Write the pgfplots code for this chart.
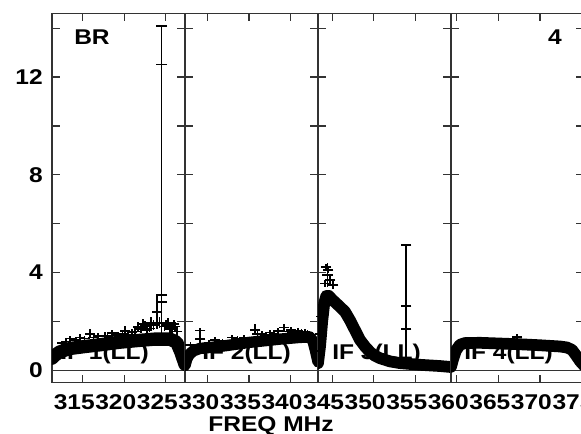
\documentclass[border=0pt]{standalone}
\usepackage{fontspec}
\setmainfont{Liberation Sans}
\usepackage{graphicx}
\usepackage{pgfplots}
\usepackage{pgfplotstable}
\pgfplotsset{compat=1.18}

\newcommand\lbl[1]{\scalebox{1.15}[1]{\fontsize{16}{16}\selectfont\bfseries #1}}

% band centres, one table per IF
\pgfplotstableread{
f v
311.30 0.50
311.65 0.62
312.20 0.75
313.00 0.85
313.50 0.90
315.30 0.98
317.10 1.05
319.30 1.15
321.50 1.22
323.60 1.28
325.50 1.28
326.30 1.15
326.80 0.75
327.30 0.25
}\bandA
\pgfplotstableread{
f v
327.30 0.20
327.50 0.45
327.80 0.65
328.30 0.80
329.10 0.90
331.50 0.98
335.10 1.15
338.70 1.28
341.10 1.35
342.30 1.37
342.70 1.20
343.00 0.80
343.30 0.35
}\bandB
\pgfplotstableread{
f v
343.30 0.30
343.55 1.00
343.80 2.00
344.05 2.75
344.30 3.05
344.60 3.05
345.00 2.90
345.95 2.60
346.55 2.40
347.15 2.05
347.75 1.65
348.35 1.25
348.95 0.98
349.56 0.75
350.15 0.60
350.76 0.50
351.96 0.37
353.16 0.30
355.57 0.23
357.98 0.18
359.30 0.14
}\bandC
\pgfplotstableread{
f v
359.30 0.15
359.54 0.45
359.90 0.82
360.38 1.05
360.98 1.12
362.80 1.13
365.20 1.10
367.60 1.07
370.00 1.03
372.40 0.98
373.25 0.94
373.86 0.84
374.34 0.62
374.82 0.38
375.30 0.20
}\bandD

% points standing out of the band, with their error bars
\pgfplotstableread{
f v ep em
312.50 1.12 0.10 0.10
313.00 1.18 0.10 0.10
313.47 1.30 0.12 0.12
314.20 1.25 0.10 0.10
314.67 1.35 0.15 0.15
315.20 1.30 0.10 0.10
315.87 1.50 0.18 0.18
316.30 1.35 0.10 0.10
316.83 1.40 0.12 0.12
317.68 1.42 0.15 0.15
318.00 1.40 0.10 0.10
318.52 1.52 0.15 0.15
319.24 1.45 0.12 0.12
319.80 1.50 0.12 0.12
320.08 1.62 0.18 0.18
320.50 1.45 0.10 0.10
320.92 1.55 0.15 0.15
321.30 1.60 0.15 0.15
321.65 1.78 0.20 0.20
322.00 1.70 0.18 0.18
322.25 1.90 0.20 0.20
322.50 1.82 0.20 0.20
322.73 1.65 0.20 0.20
323.00 1.72 0.15 0.15
323.21 1.95 0.22 0.22
323.50 1.85 0.20 0.20
323.93 2.40 0.70 0.70
324.20 1.95 0.22 0.22
324.50 3.09 0.40 0.40
324.50 2.81 0.50 0.50
324.50 12.52 1.56 11.10
324.50 14.08 0 0
324.80 1.80 0.20 0.20
325.01 1.85 0.20 0.20
325.25 1.95 0.20 0.20
325.50 1.75 0.20 0.20
325.75 1.70 0.20 0.20
325.98 1.90 0.15 0.15
326.10 1.80 0.20 0.20
326.34 1.60 0.20 0.20
}\spkA
\pgfplotstableread{
f v ep em
328.00 1.05 0.10 0.10
329.10 1.63 0.12 0.12
329.10 1.28 0.30 0.30
330.20 1.15 0.10 0.10
330.91 1.25 0.10 0.10
331.80 1.20 0.10 0.10
332.95 1.35 0.10 0.10
333.60 1.30 0.10 0.10
334.40 1.35 0.10 0.10
335.72 1.66 0.22 0.22
336.00 1.50 0.10 0.10
336.56 1.48 0.12 0.12
337.00 1.45 0.10 0.10
337.53 1.55 0.12 0.12
338.00 1.50 0.10 0.10
338.49 1.62 0.12 0.12
339.21 1.75 0.15 0.15
339.70 1.60 0.10 0.10
340.05 1.65 0.12 0.12
340.50 1.55 0.10 0.10
340.89 1.62 0.10 0.10
341.30 1.60 0.10 0.10
341.74 1.60 0.10 0.10
342.00 1.55 0.10 0.10
}\spkB
\pgfplotstableread{
f v ep em
343.45 0.80 0.30 0.30
343.60 1.50 0.30 0.30
343.75 2.20 0.30 0.30
344.14 3.55 0.15 0.15
344.26 4.24 0.10 0.10
344.42 3.90 0.50 0.50
344.50 4.10 0.12 0.12
344.74 3.70 0.15 0.15
345.10 3.50 0.15 0.15
353.89 2.64 2.50 2.35
353.89 5.14 0 0
353.89 1.70 0 0
}\spkC
\pgfplotstableread{
f v ep em
367.24 1.38 0.10 0.10
}\spkD

\pgfplotsset{
  possm/.style={
    scale only axis, width=99.75pt, height=277.05pt, anchor=south west,
    ymin=-0.5, ymax=14.61,
    ytick={0,4,8,12}, minor ytick={2,6,10,14}, yticklabels={},
    tick align=inside, major tick length=6pt, minor tick length=6pt,
    axis line style={black!80,line width=0.9pt},
    tick style={black!80,line width=0.9pt},
    xticklabel style={anchor=north,inner sep=0pt,yshift=-8.5pt,xshift=-6.4pt},
    yticklabel style={anchor=east,inner sep=0pt,xshift=-6.75pt},
  },
  band/.style={black,line width=8.8pt,line join=round,line cap=round,no markers},
  spikes/.style={black,only marks,mark=-,mark size=4pt,mark options={line width=1.2pt},
    error bars/y dir=both, error bars/y explicit, error bars/error mark=none,
    error bars/error bar style={line width=1pt,black}},
}

\begin{document}
\begin{tikzpicture}
% page = the reference's frame, which cuts the last panel at its right edge
\useasboundingbox (-39pt,-38.5pt) rectangle (396.75pt,287pt);

\begin{axis}[possm, at={(0pt,0pt)}, xmin=311.3, xmax=327.3,
  xtick={315,320,325}, xticklabels={\lbl{315},\lbl{320},\lbl{325}},
  yticklabels={\lbl{0},\lbl{4},\lbl{8},\lbl{12}}]
\draw[black!80,line width=0.9pt] ({rel axis cs:0,0}|-{axis cs:0,0}) -- ({rel axis cs:1,0}|-{axis cs:0,0});
\addplot[band,line width=10pt] table[x=f,y=v] {\bandA};
\addplot[spikes] table[x=f,y=v,y error plus=ep,y error minus=em] {\spkA};
\node[anchor=north west,inner sep=0pt,xshift=16.5pt,yshift=-12.5pt] at (rel axis cs:0,1) {\lbl{BR}};
\node[anchor=base west,inner sep=0pt,xshift=6pt,yshift=17pt] at (rel axis cs:0,0) {\lbl{IF 1(LL)}};
\end{axis}

\begin{axis}[possm, at={(99.75pt,0pt)}, xmin=327.3, xmax=343.3,
  xtick={330,335,340}, xticklabels={\lbl{330},\lbl{335},\lbl{340}},
  xlabel={\lbl{FREQ MHz}},
  xlabel style={at={(rel axis cs:0.647,0)},anchor=north,inner sep=0pt,yshift=-25pt}]
\draw[black!80,line width=0.9pt] ({rel axis cs:0,0}|-{axis cs:0,0}) -- ({rel axis cs:1,0}|-{axis cs:0,0});
\addplot[band,line width=8.5pt] table[x=f,y=v] {\bandB};
\addplot[spikes] table[x=f,y=v,y error plus=ep,y error minus=em] {\spkB};
\node[anchor=base west,inner sep=0pt,xshift=12.75pt,yshift=17pt] at (rel axis cs:0,0) {\lbl{IF 2(LL)}};
\end{axis}

\begin{axis}[possm, at={(199.5pt,0pt)}, xmin=343.3, xmax=359.3,
  xtick={345,350,355}, xticklabels={\lbl{345},\lbl{350},\lbl{355}}]
\draw[black!80,line width=0.9pt] ({rel axis cs:0,0}|-{axis cs:0,0}) -- ({rel axis cs:1,0}|-{axis cs:0,0});
\addplot[band] table[x=f,y=v] {\bandC};
\addplot[spikes] table[x=f,y=v,y error plus=ep,y error minus=em] {\spkC};
\node[anchor=base west,inner sep=0pt,xshift=10.5pt,yshift=17pt] at (rel axis cs:0,0) {\lbl{IF 3(LL)}};
\end{axis}

\begin{axis}[possm, at={(299.25pt,0pt)}, xmin=359.3, xmax=375.3,
  xtick={360,365,370,375}, xticklabels={\lbl{360},\lbl{365},\lbl{370},\lbl{375}}]
\draw[black!80,line width=0.9pt] ({rel axis cs:0,0}|-{axis cs:0,0}) -- ({rel axis cs:1,0}|-{axis cs:0,0});
\addplot[band] table[x=f,y=v] {\bandD};
\addplot[spikes] table[x=f,y=v,y error plus=ep,y error minus=em] {\spkD};
\node[anchor=north east,inner sep=0pt,xshift=-16.5pt,yshift=-12.5pt] at (rel axis cs:1,1) {\lbl{4}};
\node[anchor=base west,inner sep=0pt,xshift=9.75pt,yshift=17pt] at (rel axis cs:0,0) {\lbl{IF 4(LL)}};
\end{axis}
\end{tikzpicture}
\end{document}
